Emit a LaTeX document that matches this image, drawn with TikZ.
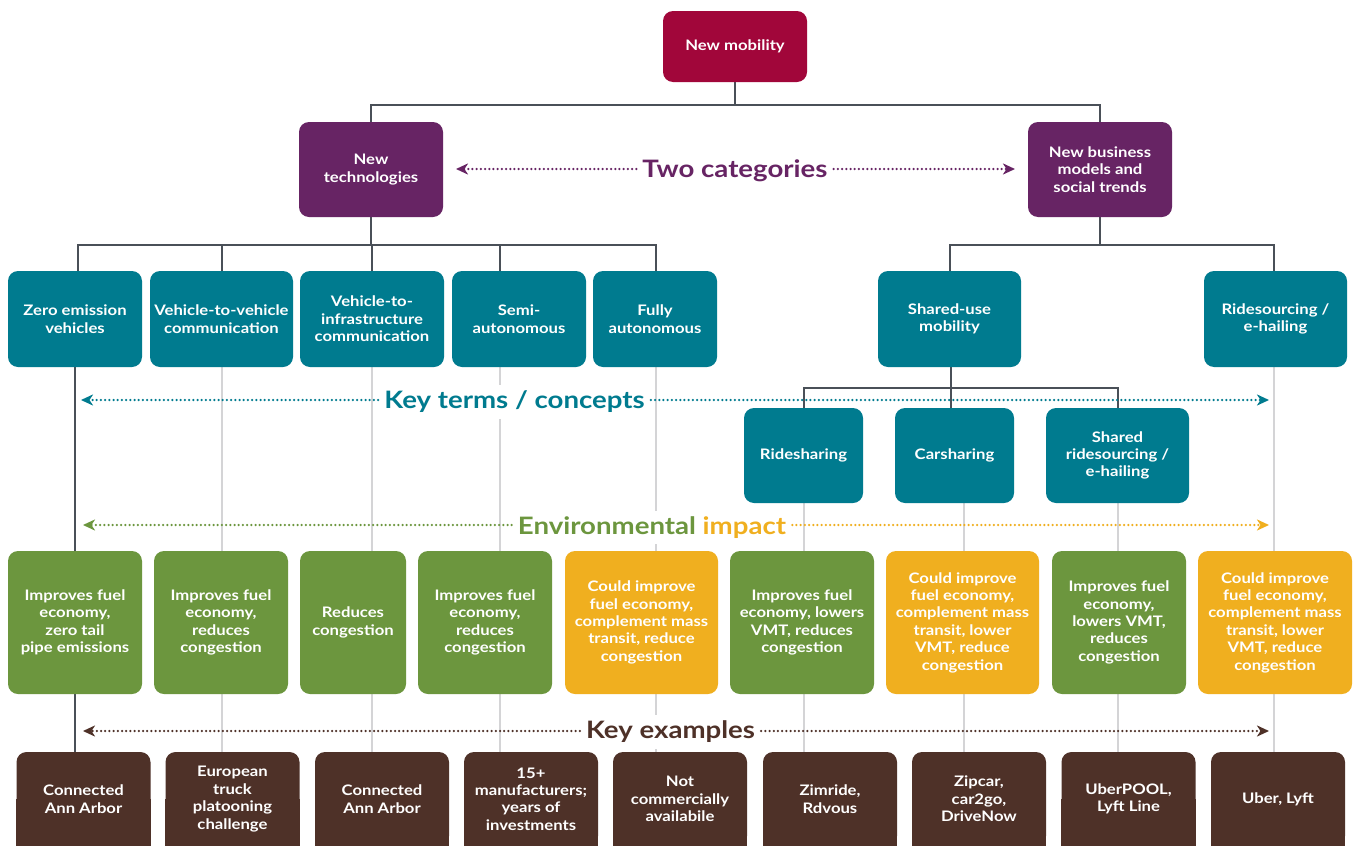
\documentclass[tikz,border=0pt]{standalone}
\usepackage{fontspec}
\setmainfont{Lato}[FakeStretch=1.15]
\usetikzlibrary{arrows.meta,calc}
\pgfdeclarelayer{bg}
\pgfsetlayers{bg,main}
\definecolor{crim}{RGB}{161,6,58}
\definecolor{purp}{RGB}{103,36,100}
\definecolor{tealc}{RGB}{0,123,143}
\definecolor{grn}{RGB}{108,150,62}
\definecolor{orng}{RGB}{240,175,31}
\definecolor{brwn}{RGB}{78,49,40}
\definecolor{connc}{RGB}{74,80,88}
\definecolor{guidec}{RGB}{212,212,214}
\tikzset{
  box/.style={rectangle, rounded corners=10pt, text=white, align=center,
    font=\bfseries\fontsize{14.5}{17.4}\selectfont, inner sep=2pt},
  conn/.style={draw=connc, line width=2pt},
  guide/.style={draw=guidec, line width=2pt},
  lbl/.style={fill=white, font=\bfseries\fontsize{24}{28}\selectfont, inner sep=6pt},
  dotarrow/.style={line width=2.5pt, dash pattern=on 0pt off 4.2pt, line cap=round,
    -{Stealth[length=12pt,width=11pt,inset=3.5pt]}},
}
\begin{document}
\begin{tikzpicture}[x=1pt,y=-1pt]
\useasboundingbox (0,0) rectangle (1353,846);
\clip (0,0) rectangle (1353,846);

% ---- nodes ----
\path
 (735,46.5) node[box, fill=crim, minimum width=144pt, minimum height=71pt] (nm) {New mobility}
 (371,169.5) node[box, fill=purp, minimum width=144pt, minimum height=95pt] (nt) {New\\technologies}
 (1100,169.5) node[box, fill=purp, minimum width=144pt, minimum height=95pt] (nb) {New business\\models and\\social trends};

\tikzset{r2/.style={box, fill=tealc, minimum height=96pt}}
\path
 (75,319) node[r2, minimum width=134pt] (zev) {Zero emission\\vehicles}
 (221.5,319) node[r2, minimum width=143pt] (v2v) {Vehicle-to-vehicle\\communication}
 (372,319) node[r2, minimum width=144pt] (v2i) {Vehicle-to-\\infrastructure\\communication}
 (519,319) node[r2, minimum width=134pt] (semi) {Semi-\\autonomous}
 (655,319) node[r2, minimum width=124pt] (fully) {Fully\\autonomous}
 (949.5,319) node[r2, minimum width=143pt] (shared) {Shared-use\\mobility}
 (1275.5,319) node[r2, minimum width=143pt] (rides) {Ridesourcing /\\e-hailing}
 (803.5,455.5) node[r2, minimum width=119pt, minimum height=95pt] (rsh) {Ridesharing}
 (954.5,455.5) node[r2, minimum width=119pt, minimum height=95pt] (csh) {Carsharing}
 (1117.5,455.5) node[r2, minimum width=143pt, minimum height=95pt] (srs) {Shared\\ridesourcing /\\e-hailing};

\tikzset{r4/.style={box, minimum height=143pt}}
\path
 (75,622.5) node[r4, fill=grn, minimum width=134pt] (i1) {Improves fuel\\economy,\\zero tail\\pipe emissions}
 (221,622.5) node[r4, fill=grn, minimum width=134pt] (i2) {Improves fuel\\economy,\\reduces\\congestion}
 (353,622.5) node[r4, fill=grn, minimum width=106pt] (i3) {Reduces\\congestion}
 (485,622.5) node[r4, fill=grn, minimum width=134pt] (i4) {Improves fuel\\economy,\\reduces\\congestion}
 (641.5,622.5) node[r4, fill=orng, minimum width=153pt] (i5) {Could improve\\fuel economy,\\complement mass\\transit, reduce\\congestion}
 (802,622.5) node[r4, fill=grn, minimum width=144pt] (i6) {Improves fuel\\economy, lowers\\VMT, reduces\\congestion}
 (962.5,622.5) node[r4, fill=orng, minimum width=153pt] (i7) {Could improve\\fuel economy,\\complement mass\\transit, lower\\VMT, reduce\\congestion}
 (1119,622.5) node[r4, fill=grn, minimum width=134pt] (i8) {Improves fuel\\economy,\\lowers VMT,\\reduces\\congestion}
 (1275,622.5) node[r4, fill=orng, minimum width=154pt] (i9) {Could improve\\fuel economy,\\complement mass\\transit, lower\\VMT, reduce\\congestion};

\tikzset{r5/.style={box, fill=brwn, minimum height=94pt, minimum width=134pt}}
\path
 (83.5,799) node[r5] (e1) {Connected\\Ann Arbor}
 (232.5,799) node[r5] (e2) {European\\truck\\platooning\\challenge}
 (382,799) node[r5] (e3) {Connected\\Ann Arbor}
 (531,799) node[r5] (e4) {15+\\manufacturers;\\years of\\investments}
 (680,799) node[r5] (e5) {Not\\commercially\\availabile}
 (830,799) node[r5] (e6) {Zimride,\\Rdvous}
 (979,799) node[r5] (e7) {Zipcar,\\car2go,\\DriveNow}
 (1128.5,799) node[r5] (e8) {UberPOOL,\\Lyft Line}
 (1278,799) node[r5] (e9) {Uber, Lyft};

% ---- background: white, guides, square bottoms, connectors ----
\begin{pgfonlayer}{bg}
 \fill[white] (0,0) rectangle (1353,846);
 \foreach \n in {e1,e2,e3,e4,e5,e6,e7,e8,e9}
   \fill[brwn] (\n.west) rectangle ([yshift=-20pt]\n.south east);
 % column guides
 \draw[conn] (zev.south) -- (zev.south |- e1.north);
 \draw[guide] (v2v.south) -- (v2v.south |- e2.north);
 \draw[guide] (v2i.south) -- (v2i.south |- e3.north);
 \draw[guide] ([xshift=-19pt]semi.south) -- ([xshift=-19pt]semi.south |- e4.north);
 \draw[guide] ([xshift=1pt]fully.south) -- ([xshift=1pt]fully.south |- e5.north);
 \draw[guide] (rsh.south) -- (rsh.south |- e6.north);
 \draw[guide] ([xshift=9.5pt]csh.south) -- ([xshift=9.5pt]csh.south |- e7.north);
 \draw[guide] (srs.south) -- (srs.south |- e8.north);
 \draw[guide] ([xshift=-1.5pt]rides.south) -- ([xshift=-1.5pt]rides.south |- e9.north);
 % tree connectors
 \coordinate (b1) at (735,105);
 \coordinate (b2) at (371,245);
 \coordinate (b3) at (1100,245);
 \coordinate (b4) at (951,388);
 \draw[conn] (nm.south) -- (b1);
 \draw[conn] (nt.north) |- (b1) -| (nb.north);
 \draw[conn] (nt.south) -- (b2);
 \draw[conn] ([xshift=3pt]zev.north) |- (b2) -| ([xshift=1pt]fully.north);
 \draw[conn] (v2v.north) -- (v2v.north |- b2);
 \draw[conn] (v2i.north) -- (v2i.north |- b2);
 \draw[conn] ([xshift=-19pt]semi.north) -- ([xshift=-19pt]semi.north |- b2);
 \draw[conn] (nb.south) -- (b3);
 \draw[conn] (shared.north) |- (b3) -| ([xshift=-1.5pt]rides.north);
 \draw[conn] (b4 |- shared.south) -- (b4 |- csh.north);
 \draw[conn] (rsh.north) |- (b4) -| (srs.north);
\end{pgfonlayer}

% ---- section labels with dotted arrows ----
\node[lbl, text=purp] (tc) at (735,171) {Two categories};
\coordinate (tcl) at (456,169);
\coordinate (tcr) at (1015,169);
\draw[dotarrow, purp] (tc.west |- tcl) -- (tcl);
\draw[dotarrow, purp] (tc.east |- tcr) -- (tcr);

\node[lbl, text=tealc] (kt) at (514.5,402) {Key terms / concepts};
\coordinate (ktl) at (81,400);
\coordinate (ktr) at (1269,400);
\draw[dotarrow, tealc] (kt.west |- ktl) -- (ktl);
\draw[dotarrow, tealc] (kt.east |- ktr) -- (ktr);

\node[lbl] (ei) at (652,527.5) {\textcolor{grn}{Environmental} \textcolor{orng}{impact}};
\coordinate (eil) at (83,525);
\coordinate (eir) at (1269,525);
\draw[dotarrow, grn] (ei.west |- eil) -- (eil);
\draw[dotarrow, orng] (ei.east |- eir) -- (eir);

\node[lbl, text=brwn] (ke) at (670.5,732) {Key examples};
\coordinate (kel) at (83,731);
\coordinate (ker) at (1269,731);
\draw[dotarrow, brwn] (ke.west |- kel) -- (kel);
\draw[dotarrow, brwn] (ke.east |- ker) -- (ker);
\end{tikzpicture}
\end{document}
